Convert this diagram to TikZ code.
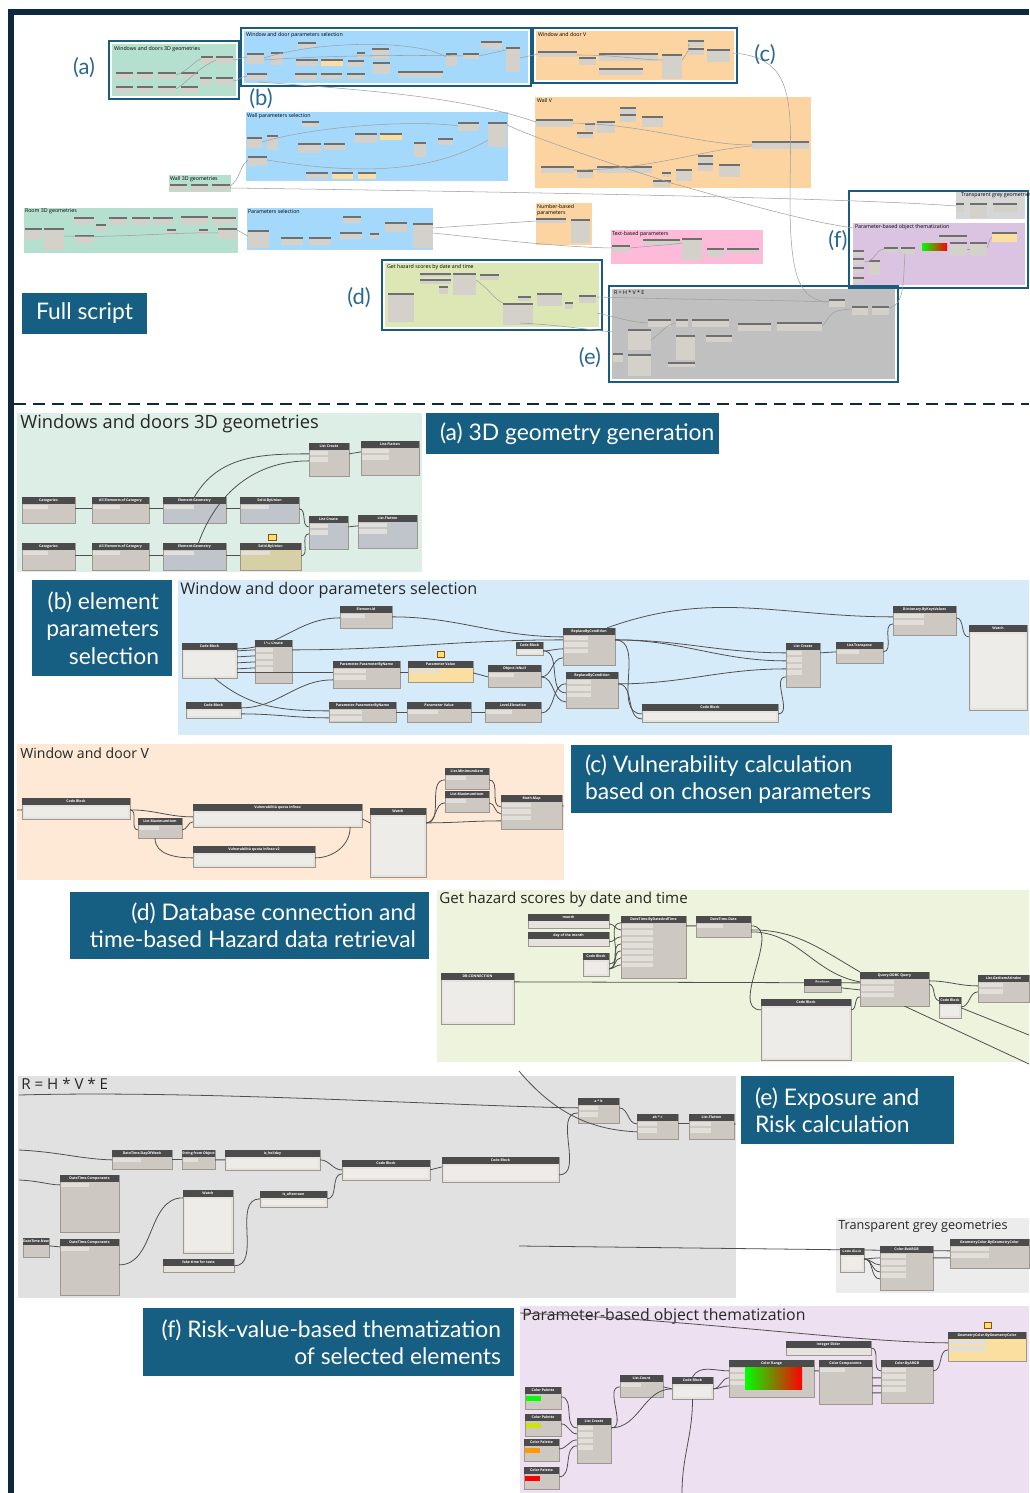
\documentclass[tikz,border=0pt]{standalone}
\usepackage{fontspec}
\setmainfont{Open Sans}
\newfontfamily\capfont{Lato}
\usetikzlibrary{calc,fit}

\definecolor{navy}{HTML}{0E2841}
\definecolor{boxblue}{HTML}{1B5B80}
\definecolor{capblue}{HTML}{165E82}
\definecolor{lblblue}{HTML}{2A6890}
% overview group colours
\definecolor{ovgreen}{HTML}{B5E0CF}
\definecolor{ovblue}{HTML}{A5D9FB}
\definecolor{ovorange}{HTML}{FCD4A2}
\definecolor{ovpink}{HTML}{FDBBD9}
\definecolor{ovolive}{HTML}{DDE7B5}
\definecolor{ovgrey}{HTML}{C0C0C0}
\definecolor{ovlight}{HTML}{D6D6D6}
\definecolor{ovpurple}{HTML}{DAC4E2}
% detail panel colours
\definecolor{pmint}{HTML}{DCEEE6}
\definecolor{pblue}{HTML}{D6EBFA}
\definecolor{ppeach}{HTML}{FDE9D6}
\definecolor{polive}{HTML}{EEF3DD}
\definecolor{pgrey}{HTML}{E1E1E1}
\definecolor{plight}{HTML}{ECECEC}
\definecolor{plav}{HTML}{EDE0F0}
% dynamo nodes
\definecolor{nodegrey}{HTML}{CDC9C2}
\definecolor{nodehead}{HTML}{4B4B4B}
\definecolor{nodeedge}{HTML}{9C978F}
\definecolor{nodeyel}{HTML}{FBDFA0}
\definecolor{nodeblu}{HTML}{BFC5CA}
\definecolor{nodeolive}{HTML}{D7CFA5}
\definecolor{nodelight}{HTML}{E6E3DE}
\definecolor{portfill}{HTML}{E2DFDA}
\definecolor{codefill}{HTML}{EEECE9}
\definecolor{wiregrey}{HTML}{4F4F4F}
\definecolor{notey}{HTML}{F6E27A}

\tikzset{
  ovframe/.style={draw=boxblue, line width=1.6pt},
  ovtitle/.style={anchor=north west, inner sep=0.4pt, font=\fontsize{3}{3.4}\selectfont},
  ovwire/.style={draw=gray!75, line width=0.3pt},
  ovlbl/.style={text=lblblue, font=\capfont\fontsize{12.5}{14}\selectfont, inner sep=0},
  panel/.style={inner sep=0},
  ptitle/.style={anchor=west, inner sep=0, text=black!85},
  capbox/.style={fill=capblue, inner sep=0},
  captext/.style={text=white, font=\capfont\fontsize{13}{15.6}\selectfont, inner sep=0},
  dynbody/.style={fill=nodegrey, draw=nodeedge, line width=0.15pt, inner sep=0},
  dynyel/.style={dynbody, fill=nodeyel},
  dynblue/.style={dynbody, fill=nodeblu},
  dynolive/.style={dynbody, fill=nodeolive},
  dynlight/.style={dynbody, fill=nodelight},
  dyntitle/.style={text=white, font=\fontsize{2}{2.4}\selectfont\bfseries, inner sep=0},
  wire/.style={draw=wiregrey, line width=0.45pt},
  note/.style={fill=notey, draw=orange!60!black, line width=0.1pt}
}

% Dynamo node: style, name, top-left, bottom-right, title
\newcommand{\dyn}[5][dynbody]{%
  \node[#1, fit={(#3) (#4)}] (#2) {};
  \fill[nodehead] (#2.north west) rectangle ($(#2.north east)+(0,7)$);
  \node[dyntitle] at ($(#2.north)+(0,3.5)$) {#5};}
% input port rows of a node
\newcommand{\rows}[2]{%
  \foreach \k in {1,...,#2}
    \fill[portfill] ($(#1.north west)+(1.5,{1.5+6.5*\k})$) rectangle ($(#1.north)+(-1,{6+6.5*\k})$);}
% text area of code blocks and watches
\newcommand{\codearea}[1]{%
  \fill[codefill] ($(#1.north west)+(2,9)$) rectangle ($(#1.south east)+(-2,-2)$);}

\begin{document}
\begin{tikzpicture}[x=0.02cm, y=-0.02cm]
\useasboundingbox (0,0) rectangle (1029,1493);
\fill[white] (0,0) rectangle (1029,1493);

% outer frame
\fill[navy] (8,9) rectangle (1029,15);
\fill[navy] (8,9) rectangle (14,1493);
\draw[navy, line width=1.2pt, dash pattern=on 0.25cm off 0.13cm] (14,404) -- (1029,404);

%%%%%%%%%%%%%%%% full script overview
% groups
\draw[ovframe] (109,41) rectangle (239,99);
\fill[ovgreen] (112,44) rectangle (236,96);
\node[ovtitle] at (113,45) {Windows and doors 3D geometries};
\draw[ovframe] (241,28) rectangle (531,86);
\fill[ovblue] (244,31) rectangle (528,83);
\node[ovtitle] at (245,31) {Window and door parameters selection};
\draw[ovframe] (533,28) rectangle (737,83);
\fill[ovorange] (536,31) rectangle (734,80);
\node[ovtitle] at (537,31) {Window and door V};
\fill[ovblue] (246,112) rectangle (508,181);
\node[ovtitle] at (246,112) {Wall parameters selection};
\fill[ovorange] (535,97) rectangle (811,188);
\node[ovtitle] at (536,97) {Wall V};
\fill[ovgreen] (169,175) rectangle (231,192);
\node[ovtitle] at (169,175) {Wall 3D geometries};
\fill[ovgreen] (24,208) rectangle (238,253);
\node[ovtitle] at (24,208) {Room 3D geometries};
\fill[ovblue] (247,208) rectangle (433,250);
\node[ovtitle] at (247,208) {Parameters selection};
\fill[ovorange] (536,203) rectangle (592,245);
\node[ovtitle, align=left] at (536,203) {Number-based\\parameters};
\fill[ovpink] (611,230) rectangle (763,264);
\node[ovtitle] at (611,230) {Text-based parameters};
\draw[ovframe] (382,260) rectangle (602,330);
\fill[ovolive] (385,263) rectangle (599,327);
\node[ovtitle] at (386,263) {Get hazard scores by date and time};
\draw[ovframe] (609,286) rectangle (898,382);
\fill[ovgrey] (612,289) rectangle (895,379);
\node[ovtitle] at (613,289) {R = H * V * E};
\draw[ovframe] (849,191) rectangle (1028,288);
\fill[ovlight] (956,192) rectangle (1025,219);
\node[ovtitle] at (960,192) {Transparent grey geometries};
\fill[ovpurple] (853,223) rectangle (1025,285);
\node[ovtitle] at (854,223) {Parameter-based object thematization};

% miniature nodes
\foreach \a/\b/\c/\d in {116/72/133/79, 137/72/153/79, 158/72/176/79, 181/72/198/78,
    201/56/213/64, 216/56/233/64, 200/77/212/85, 216/77/233/85,
    116/86/133/93, 137/86/153/93, 158/86/176/93, 181/86/198/93,
    247/53/264/64, 271/52/283/65, 298/42/316/48, 296/59/318/66, 348/60/364/67,
    357/52/365/58, 372/48/389/59, 373/62/390/74, 247/73/267/80, 295/73/317/80,
    321/73/342/79, 347/73/365/79, 398/71/443/77, 446/53/457/66, 463/53/479/59,
    481/41/502/49, 506/47/520/72,
    538/51/577/57, 579/57/596/65, 599/53/658/61, 599/68/643/75, 662/54/682/79,
    688/40/704/47, 688/48/704/55, 707/49/730/62,
    536/119/573/127, 585/123/595/131, 577/132/593/138, 597/121/615/133,
    620/107/636/114, 620/114/636/122, 642/116/663/127, 752/141/809/149,
    541/166/574/173, 577/170/593/178, 597/166/652/173, 662/172/671/177,
    653/180/671/187, 676/169/692/181, 698/155/713/163, 698/163/713/171, 719/164/740/177,
    247/137/262/148, 267/135/278/150, 302/121/319/127, 248/156/267/166,
    298/143/321/153, 324/143/345/150, 355/133/377/143, 414/142/426/157,
    438/138/453/145, 458/122/479/131, 488/122/507/147, 306/172/328/179,
    170/184/187/191, 191/184/208/191, 212/184/230/191,
    25/228/42/240, 44/228/64/250, 74/217/94/225, 75/235/94/243, 96/224/106/231,
    109/217/127/225, 132/217/150/225, 153/217/173/225, 181/216/208/225,
    212/217/236/225, 167/229/176/235, 199/229/208/235, 218/228/237/239,
    248/230/269/248, 281/237/303/245, 309/237/331/245, 340/232/362/239,
    343/216/361/223, 370/233/379/239, 385/222/407/232, 413/223/433/248,
    536/218/566/223, 571/219/590/243,
    612/245/630/252, 643/239/680/245, 682/238/702/260, 707/248/724/257, 727/248/759/253,
    420/273/451/277, 420/279/451/284, 439/286/448/294, 453/273/476/295, 480/274/499/280,
    388/293/414/322, 518/296/531/301, 537/293/562/306, 565/302/573/309,
    579/295/596/303, 503/303/533/325,
    829/299/845/307, 852/306/868/315, 872/306/889/315, 648/319/671/327,
    676/319/688/327, 692/319/729/327, 738/323/771/331, 777/322/822/331,
    628/329/651/350, 628/354/651/376, 613/353/623/362, 676/335/695/360,
    706/335/732/342, 668/362/695/367,
    956/203/964/212, 970/203/987/218, 993/203/1017/212,
    853/250/864/256, 853/258/864/264, 853/267/864/273, 853/277/864/283,
    869/260/880/275, 884/247/898/252, 901/247/915/254, 950/242/967/256,
    970/242/987/256, 939/235/967/239}
  {\fill[nodegrey!85!white] (\a,\b) rectangle (\c,\d);
   \fill[nodehead!80] (\a,\b) rectangle (\c,{\b+1.6});}
\foreach \a/\b/\c/\d in {321/59/343/66, 380/133/402/140, 332/172/353/179,
    358/172/376/179, 992/232/1017/242}
  {\fill[nodeyel] (\a,\b) rectangle (\c,\d);
   \fill[nodehead!80] (\a,\b) rectangle (\c,{\b+1.6});}
\shade[left color=green, middle color=yellow, right color=red] (922,244) rectangle (947,251);

% overview wires
\draw[ovwire] (233,60) to[out=0,in=180] (247,57);
\draw[ovwire] (233,81) to[out=0,in=180] (247,76);
\draw[ovwire] (176,75) .. controls (190,70) and (195,60) .. (201,59);
\draw[ovwire] (176,89) .. controls (190,80) and (195,70) .. (216,60);
\draw[ovwire] (264,58) .. controls (320,40) and (420,40) .. (446,57);
\draw[ovwire] (264,60) .. controls (330,55) and (420,55) .. (463,56);
\draw[ovwire] (479,56) -- (506,50);
\draw[ovwire] (520,58) -- (538,54);
\draw[ovwire] (258,82) .. controls (400,92) and (470,100) .. (536,122);
\draw[ovwire] (577,55) .. controls (620,55) and (640,60) .. (662,60);
\draw[ovwire] (682,60) .. controls (690,50) and (690,45) .. (688,44);
\draw[ovwire] (230,186) .. controls (240,180) and (240,165) .. (248,160);
\draw[ovwire] (230,188) .. controls (520,192) and (850,198) .. (956,206);
\draw[ovwire] (262,142) .. controls (320,125) and (420,120) .. (458,126);
\draw[ovwire] (267,160) .. controls (330,170) and (420,180) .. (488,140);
\draw[ovwire] (573,123) .. controls (650,125) and (700,145) .. (752,145);
\draw[ovwire] (574,170) .. controls (650,170) and (700,150) .. (752,146);
\draw[ovwire] (507,125) .. controls (540,140) and (600,160) .. (671,183);
\draw[ovwire] (671,183) .. controls (750,205) and (800,220) .. (853,228);
\draw[ovwire] (237,230) -- (248,236);
\draw[ovwire] (64,236) .. controls (120,238) and (170,232) .. (218,233);
\draw[ovwire] (433,228) -- (536,221);
\draw[ovwire] (433,233) .. controls (500,240) and (560,247) .. (612,248);
\draw[ovwire] (630,248) .. controls (660,245) and (670,245) .. (682,243);
\draw[ovwire] (733,53) .. controls (800,58) and (790,110) .. (790,200)
                     .. controls (790,280) and (800,300) .. (829,302);
\draw[ovwire] (597,297) .. controls (700,300) and (780,300) .. (829,302);
\draw[ovwire] (597,313) .. controls (620,318) and (630,322) .. (648,323);
\draw[ovwire] (520,323) .. controls (560,325) and (590,330) .. (613,332);
\draw[ovwire] (889,308) .. controls (905,305) and (903,280) .. (905,254);
\draw[ovwire] (864,262) .. controls (875,262) and (875,250) .. (884,249);
\draw[ovwire] (967,249) -- (970,249);
\draw[ovwire] (987,248) .. controls (990,240) and (990,238) .. (992,237);
\draw[ovwire] (651,340) .. controls (665,330) and (665,325) .. (676,323);
\draw[ovwire] (822,326) .. controls (830,320) and (825,310) .. (852,309);
\draw[ovwire] (476,280) .. controls (490,290) and (495,300) .. (503,303);

% overview labels
\node[ovlbl] (lblA) at (84,68) {(a)};
\node[ovlbl] (lblB) at (261,99) {(b)};
\node[ovlbl] (lblC) at (765,55) {(c)};
\node[ovlbl] (lblD) at (359,298) {(d)};
\node[ovlbl] (lblE) at (590,358) {(e)};
\node[ovlbl] (lblF) at (838,241) {(f)};
\node[capbox, fit={(22,293) (147,334)}] (fullbox) {};
\node[captext, font=\capfont\fontsize{13}{15}\selectfont] at (fullbox.center) {Full script};

%%%%%%%%%%%%%%%% (a) 3D geometry generation
\node[panel, fill=pmint, fit={(17,413) (422,572)}] (panA) {};
\node[ptitle, font=\fontsize{10.4}{12}\selectfont] at (20,424) {Windows and doors 3D geometries};
\node[capbox, fit={(426,413) (719,454)}] (capA) {};
\node[captext, anchor=west] at ($(capA.west)+(14,0)$) {(a) 3D geometry generation};

\dyn{catA}{22,497}{75,523}{Categories}
\dyn{allA}{92,497}{149,523}{All Elements of Category}
\dyn[dynblue]{geoA}{163,497}{226,523}{Element.Geometry}
\dyn[dynblue]{solA}{240,497}{299,523}{Solid.ByUnion}
\dyn{catB}{22,543}{75,570}{Categories}
\dyn{allB}{92,543}{149,570}{All Elements of Category}
\dyn[dynblue]{geoB}{163,543}{226,570}{Element.Geometry}
\dyn[dynolive]{solB}{240,543}{301,570}{Solid.ByUnion}
\dyn{lcA}{309,443}{349,476}{List Create}
\dyn{lfA}{361,441}{419,475}{List.Flatten}
\dyn[dynblue]{lcB}{309,516}{348,549}{List Create}
\dyn[dynblue]{lfB}{358,515}{417,548}{List.Flatten}
\foreach \n in {catA,allA,geoA,solA,catB,allB,geoB,solB} {\rows{\n}{1}}
\foreach \n in {lcA,lfA,lcB,lfB} {\rows{\n}{2}}
\fill[note] (268,534) rectangle (276,540);

\draw[wire] ($(catA.north east)+(0,12)$) -- ($(allA.north west)+(0,12)$);
\draw[wire] ($(allA.north east)+(0,12)$) -- ($(geoA.north west)+(0,12)$);
\draw[wire] ($(geoA.north east)+(0,12)$) -- ($(solA.north west)+(0,12)$);
\draw[wire] ($(catB.north east)+(0,13)$) -- ($(allB.north west)+(0,13)$);
\draw[wire] ($(allB.north east)+(0,13)$) -- ($(geoB.north west)+(0,13)$);
\draw[wire] ($(geoB.north east)+(0,13)$) -- ($(solB.north west)+(0,13)$);
\draw[wire] ($(geoA.north)+(0,0)$) to[out=60,in=180] ($(lcA.north west)+(0,11)$);
\draw[wire] ($(geoB.north)+(4,0)$) to[out=70,in=180] ($(lcA.north west)+(0,18)$);
\draw[wire] ($(solA.north east)+(0,12)$) to[out=0,in=180] ($(lcB.north west)+(0,11)$);
\draw[wire] ($(solB.north east)+(0,13)$) to[out=0,in=180] ($(lcB.north west)+(0,18)$);
\draw[wire] ($(lcA.north east)+(0,11)$) -- ($(lfA.north west)+(0,11)$);
\draw[wire] ($(lcB.north east)+(0,11)$) -- ($(lfB.north west)+(0,11)$);

%%%%%%%%%%%%%%%% (b) element parameters selection
\node[capbox, fit={(32,580) (172,676)}] (capB) {};
\node[captext, anchor=east, align=right] at ($(capB.east)+(-13,0)$) {(b) element\\parameters\\selection};
\node[panel, fill=pblue, fit={(178,580) (1029,735)}] (panB) {};
\node[ptitle, font=\fontsize{9.2}{11}\selectfont] at (180,590) {Window and door parameters selection};

\dyn[dynlight]{cbIds}{182,643}{237,678}{Code Block}
\dyn{lcPar}{255,640}{292,683}{List Create}
\dyn{elemId}{340,606}{392,628}{Element.Id}
\dyn{pbnA}{333,661}{400,688}{Parameter.ParameterByName}
\dyn[dynyel]{pvA}{408,661}{473,682}{Parameter Value}
\dyn{isNull}{488,665}{541,687}{Object.IsNull}
\dyn[dynlight]{cbZero}{516,642}{543,655}{Code Block}
\dyn{rbcA}{563,628}{615,665}{ReplaceByCondition}
\dyn{rbcB}{566,672}{618,708}{ReplaceByCondition}
\dyn[dynlight]{cbNames}{186,702}{241,718}{Code Block}
\dyn{pbnB}{329,702}{396,722}{Parameter.ParameterByName}
\dyn{pvB}{407,702}{471,722}{Parameter Value}
\dyn{levEl}{485,702}{541,722}{Level.Elevation}
\dyn[dynlight]{cbSum}{642,704}{778,722}{Code Block}
\dyn{lcOut}{786,643}{820,687}{List Create}
\dyn{transp}{836,642}{883,663}{List.Transpose}
\dyn{dictKV}{893,606}{956,635}{Dictionary.ByKeysValues}
\dyn[dynlight]{watchB}{969,625}{1027,710}{Watch}
\foreach \n in {cbIds,cbNames,cbZero,cbSum,watchB} {\codearea{\n}}
\foreach \n in {elemId,pvA,isNull,pvB,levEl,transp} {\rows{\n}{1}}
\foreach \n in {pbnA,pbnB,dictKV} {\rows{\n}{2}}
\foreach \n in {rbcA,rbcB} {\rows{\n}{3}}
\foreach \n in {lcPar,lcOut} {\rows{\n}{4}}
\fill[note] (437,651) rectangle (444,657);

\foreach \k in {8,14,20,26}
  \draw[wire] ($(cbIds.north east)+(0,\k)$) -- ($(lcPar.north west)+(0,\k+2)$);
\draw[wire] ($(cbIds.north east)+(0,6)$) to[out=0,in=180] ($(elemId.north west)+(0,12)$);
\draw[wire] ($(cbIds.north east)+(0,30)$) to[out=0,in=180] ($(pbnA.north west)+(0,12)$);
\draw[wire] ($(cbIds.south)+(5,0)$) to[out=-40,in=180] ($(pbnB.north west)+(0,9)$);
\draw[wire] ($(cbNames.north east)+(0,6)$) to[out=0,in=180] ($(pbnA.north west)+(0,19)$);
\draw[wire] ($(cbNames.north east)+(0,12)$) to[out=0,in=180] ($(pbnB.north west)+(0,16)$);
\draw[wire] ($(lcPar.north east)+(0,10)$) to[out=0,in=180] ($(rbcA.north west)+(0,12)$);
\draw[wire] ($(elemId.north east)+(0,11)$) to[out=0,in=180] ($(rbcA.north west)+(0,9)$);
\draw[wire] ($(pbnA.north east)+(0,12)$) -- ($(pvA.north west)+(0,12)$);
\draw[wire] ($(pvA.north east)+(0,12)$) -- ($(isNull.north west)+(0,12)$);
\draw[wire] ($(isNull.north east)+(0,12)$) to[out=0,in=180] ($(rbcA.north west)+(0,30)$);
\draw[wire] ($(isNull.north east)+(0,12)$) to[out=0,in=180] ($(rbcB.north west)+(0,30)$);
\draw[wire] ($(cbZero.north east)+(0,9)$) to[out=0,in=180] ($(rbcA.north west)+(0,21)$);
\draw[wire] ($(cbZero.north east)+(0,9)$) to[out=0,in=180] ($(rbcB.north west)+(0,21)$);
\draw[wire] ($(pbnB.north east)+(0,11)$) -- ($(pvB.north west)+(0,11)$);
\draw[wire] ($(pvB.north east)+(0,11)$) -- ($(levEl.north west)+(0,11)$);
\draw[wire] ($(levEl.north east)+(0,11)$) to[out=0,in=180] ($(rbcB.north west)+(0,12)$);
\draw[wire] ($(rbcA.north east)+(0,12)$) to[out=0,in=180] ($(lcOut.north west)+(0,10)$);
\draw[wire] ($(rbcA.north east)+(0,12)$) to[out=0,in=180] ($(lcOut.north west)+(0,18)$);
\draw[wire] ($(rbcA.north east)+(0,12)$) to[out=0,in=180] ($(cbSum.north west)+(0,10)$);
\draw[wire] ($(rbcB.north east)+(0,12)$) to[out=0,in=180] ($(lcOut.north west)+(0,26)$);
\draw[wire] ($(rbcB.north east)+(0,12)$) to[out=0,in=180] ($(cbSum.north west)+(0,15)$);
\draw[wire] ($(cbSum.north east)+(0,10)$) to[out=0,in=180] ($(lcOut.north west)+(0,34)$);
\draw[wire] ($(lcOut.north east)+(0,10)$) -- ($(transp.north west)+(0,10)$);
\draw[wire] ($(transp.north east)+(0,10)$) to[out=0,in=180] ($(dictKV.north west)+(0,18)$);
\draw[wire] ($(rbcA.north east)+(-8,0)$) to[out=20,in=180] ($(dictKV.north west)+(0,11)$);
\draw[wire] ($(dictKV.north east)+(0,12)$) to[out=0,in=180] ($(watchB.north west)+(0,12)$);

%%%%%%%%%%%%%%%% (c) vulnerability
\node[panel, fill=ppeach, fit={(17,744) (564,880)}] (panC) {};
\node[ptitle, font=\fontsize{8}{10}\selectfont] at (20,753) {Window and door V};
\node[capbox, fit={(571,745) (892,813)}] (capC) {};
\node[captext, anchor=west, align=left] at ($(capC.west)+(14,0)$) {(c) Vulnerability calculation\\based on chosen parameters};

\dyn[dynlight]{cbV}{22,798}{130,819}{Code Block}
\dyn{lmaxV}{138,818}{182,838}{List.MaximumItem}
\dyn[dynlight]{vulnA}{193,804}{362,827}{Vulnerabilità quota infisso}
\dyn[dynlight]{vulnB}{193,846}{315,867}{Vulnerabilità quota infisso v2}
\dyn[dynlight]{watchV}{370,808}{426,877}{Watch}
\dyn{lminV}{445,768}{489,789}{List.MinimumItem}
\dyn{lmaxW}{445,791}{489,812}{List.MaximumItem}
\dyn{mapV}{501,795}{562,829}{Math.Map}
\foreach \n in {cbV,vulnA,vulnB,watchV} {\codearea{\n}}
\foreach \n in {lmaxV,lminV,lmaxW} {\rows{\n}{1}}
\rows{mapV}{3}

\draw[wire] (17,810) -- ($(cbV.north west)+(0,12)$);
\draw[wire] ($(cbV.north east)+(0,12)$) to[out=0,in=180] ($(vulnA.north west)+(0,13)$);
\draw[wire] ($(cbV.north east)+(0,12)$) to[out=0,in=180] ($(lmaxV.north west)+(0,12)$);
\draw[wire] ($(lmaxV.north east)+(0,12)$) to[out=0,in=180] ($(vulnA.north west)+(0,18)$);
\draw[wire] ($(lmaxV.south)+(-5,0)$) to[out=-90,in=180] ($(vulnB.north west)+(0,12)$);
\draw[wire] ($(vulnA.north east)+(0,15)$) -- ($(watchV.north west)+(0,15)$);
\draw[wire] ($(vulnB.north east)+(0,12)$) to[out=0,in=-90] ($(vulnA.south east)+(-12,0)$);
\draw[wire] ($(watchV.north east)+(0,15)$) to[out=0,in=180] ($(lminV.north west)+(0,12)$);
\draw[wire] ($(watchV.north east)+(0,15)$) to[out=0,in=180] ($(lmaxW.north west)+(0,12)$);
\draw[wire] ($(watchV.north east)+(0,15)$) to[out=0,in=180] ($(mapV.north west)+(0,26)$);
\draw[wire] ($(lminV.north east)+(0,12)$) to[out=0,in=180] ($(mapV.north west)+(0,12)$);
\draw[wire] ($(lmaxW.north east)+(0,12)$) to[out=0,in=180] ($(mapV.north west)+(0,19)$);
\draw[wire] ($(mapV.north east)+(0,11)$) -- (564,806);

%%%%%%%%%%%%%%%% (d) hazard data
\node[capbox, fit={(70,892) (429,959)}] (capD) {};
\node[captext, anchor=east, align=right] at ($(capD.east)+(-13,0)$) {(d) Database connection and\\time-based Hazard data retrieval};
\node[panel, fill=polive, fit={(437,890) (1029,1062)}] (panD) {};
\node[ptitle, font=\fontsize{8.6}{10}\selectfont] at (439,900) {Get hazard scores by date and time};

\dyn[dynlight]{monthSl}{528,914}{609,928}{month}
\dyn[dynlight]{daySl}{528,932}{609,946}{day of the month}
\dyn[dynlight]{cbDate}{583,953}{609,976}{Code Block}
\dyn{dtBy}{621,916}{686,978}{DateTime.ByDateAndTime}
\dyn{dtDate}{696,916}{751,937}{DateTime.Date}
\dyn[dynlight]{dbConn}{441,973}{514,1024}{DB-CONNECTION}
\dyn{boolT}{804,979}{841,992}{Boolean}
\dyn{odbc}{860,972}{929,1006}{Query.ODBC Query}
\dyn[dynlight]{cbSql}{761,999}{851,1060}{Code Block}
\dyn[dynlight]{cbIdx}{939,997}{961,1018}{Code Block}
\dyn{getItem}{978,975}{1029,1002}{List.GetItemAtIndex}
\foreach \n in {cbDate,dbConn,cbSql,cbIdx} {\codearea{\n}}
\rows{dtBy}{7}
\rows{dtDate}{1}
\rows{odbc}{3}
\rows{getItem}{2}

\draw[wire] ($(monthSl.north east)+(0,10)$) to[out=0,in=180] ($(dtBy.north west)+(0,14)$);
\draw[wire] ($(daySl.north east)+(0,10)$) to[out=0,in=180] ($(dtBy.north west)+(0,21)$);
\draw[wire] ($(cbDate.north east)+(0,11)$) to[out=0,in=180] ($(dtBy.north west)+(0,7)$);
\draw[wire] ($(cbDate.north east)+(0,16)$) to[out=0,in=180] ($(dtBy.north west)+(0,28)$);
\draw[wire] ($(cbDate.north east)+(0,16)$) to[out=0,in=180] ($(dtBy.north west)+(0,35)$);
\draw[wire] ($(cbDate.north east)+(0,16)$) to[out=0,in=180] ($(dtBy.north west)+(0,42)$);
\draw[wire] ($(cbDate.north east)+(0,16)$) to[out=0,in=180] ($(dtBy.north west)+(0,49)$);
\draw[wire] ($(dtBy.north east)+(0,10)$) -- ($(dtDate.north west)+(0,10)$);
\draw[wire] ($(dtDate.north east)+(0,10)$) to[out=0,in=180] ($(cbSql.north west)+(0,11)$);
\draw[wire] ($(dtDate.north east)+(0,14)$) to[out=0,in=150] ($(odbc.north west)+(0,0)$);
\draw[wire] ($(dtDate.north east)+(0,16)$) to[out=0,in=170] ($(odbc.north west)+(0,10)$);
\draw[wire] ($(dbConn.north east)+(0,9)$) -- ($(odbc.north west)+(0,11)$);
\draw[wire] ($(boolT.north east)+(0,9)$) -- ($(odbc.north west)+(0,18)$);
\draw[wire] ($(cbSql.north east)+(0,11)$) to[out=0,in=180] ($(odbc.north west)+(0,25)$);
\draw[wire] ($(odbc.north east)+(0,9)$) to[out=0,in=180] ($(getItem.north west)+(0,11)$);
\draw[wire] ($(odbc.north east)+(0,12)$) to[out=-20,in=160] ($(cbIdx.north west)+(0,4)$);
\draw[wire] ($(cbIdx.north east)+(0,10)$) to[out=0,in=180] ($(getItem.north west)+(0,17)$);
\draw[wire] ($(odbc.south)+(10,0)$) -- (1029,1064);
\draw[wire] ($(cbIdx.north east)+(0,11)$) -- (1029,1035);

%%%%%%%%%%%%%%%% (e) exposure and risk
\node[panel, fill=pgrey, fit={(18,1076) (736,1298)}] (panE) {};
\node[ptitle, font=\fontsize{8.6}{10}\selectfont] at (21,1084) {R = H * V * E};
\node[capbox, fit={(741,1076) (954,1144)}] (capE) {};
\node[captext, anchor=west, align=left] at ($(capE.west)+(14,0)$) {(e) Exposure and\\Risk calculation};

\dyn{nAB}{578,1098}{619,1123}{a * b}
\dyn{nABC}{637,1114}{678,1139}{ab * c}
\dyn{lfR}{689,1114}{734,1139}{List.Flatten}
\dyn{dow}{112,1150}{172,1169}{DateTime.DayOfWeek}
\dyn{strObj}{182,1150}{215,1169}{String from Object}
\dyn[dynlight]{isHol}{225,1150}{320,1170}{is\_holiday}
\dyn[dynlight]{cbExp}{342,1160}{430,1180}{Code Block}
\dyn[dynlight]{cbOut}{442,1157}{559,1182}{Code Block}
\dyn{dtcA}{60,1175}{119,1232}{DateTime.Components}
\dyn[dynlight]{watchE}{183,1190}{233,1253}{Watch}
\dyn[dynlight]{isAft}{260,1191}{327,1207}{is\_afternoon}
\dyn{dtNow}{23,1238}{49,1257}{DateTime.Now}
\dyn{dtcB}{60,1239}{119,1295}{DateTime.Components}
\dyn[dynlight]{fakeSl}{163,1259}{234,1272}{fake time for tests}
\foreach \n in {isHol,cbExp,cbOut,watchE,isAft} {\codearea{\n}}
\foreach \n in {nAB,nABC,lfR} {\rows{\n}{2}}
\foreach \n in {dow,strObj,dtcA,dtcB} {\rows{\n}{1}}

\coordinate (inH) at (19,1095);
\coordinate (inV) at (519,1071);
\coordinate (inD) at (19,1150);
\coordinate (inT) at (19,1180);
\draw[wire] (inH) .. controls (200,1090) and (450,1106) .. ($(nAB.north west)+(0,10)$);
\draw[wire] (inV) .. controls (560,1120) and (600,1130) .. ($(nABC.north west)+(0,18)$);
\draw[wire] (inD) .. controls (60,1152) and (80,1159) .. ($(dow.north west)+(0,10)$);
\draw[wire] (inT) .. controls (40,1181) and (50,1185) .. ($(dtcA.north west)+(0,10)$);
\draw[wire] ($(nAB.north east)+(0,10)$) to[out=0,in=180] ($(nABC.north west)+(0,10)$);
\draw[wire] ($(nABC.north east)+(0,10)$) -- ($(lfR.north west)+(0,10)$);
\draw[wire] ($(lfR.north east)+(0,10)$) -- (736,1124);
\draw[wire] ($(dow.north east)+(0,10)$) -- ($(strObj.north west)+(0,10)$);
\draw[wire] ($(strObj.north east)+(0,10)$) -- ($(isHol.north west)+(0,10)$);
\draw[wire] ($(isHol.north east)+(0,10)$) to[out=0,in=180] ($(cbExp.north west)+(0,10)$);
\draw[wire] ($(isAft.north east)+(0,8)$) to[out=0,in=180] ($(cbExp.north west)+(0,14)$);
\draw[wire] ($(cbExp.north east)+(0,10)$) -- ($(cbOut.north west)+(0,10)$);
\draw[wire] ($(cbOut.north east)+(0,18)$) to[out=0,in=180] ($(nAB.north west)+(0,15)$);
\draw[wire] ($(dtNow.north east)+(0,8)$) -- ($(dtcB.north west)+(0,8)$);
\draw[wire] ($(dtcB.north east)+(0,26)$) to[out=0,in=180] ($(watchE.north west)+(0,8)$);
\draw[wire] ($(fakeSl.north east)+(0,7)$) to[out=0,in=180] ($(isAft.north west)+(0,8)$);

% transparent grey geometries
\node[panel, fill=plight, fit={(836,1218) (1029,1293)}] (panT) {};
\node[ptitle, font=\fontsize{7.2}{8}\selectfont] at (838,1226) {Transparent grey geometries};
\dyn[dynlight]{cbGrey}{840,1248}{864,1272}{Code Block}
\dyn{argbT}{880,1246}{933,1290}{Color.ByARGB}
\dyn{gcT}{950,1239}{1029,1268}{GeometryColor.ByGeometryColor}
\codearea{cbGrey}
\rows{argbT}{4}
\rows{gcT}{2}
\draw[wire] (519,1246) .. controls (700,1248) and (850,1250) .. ($(gcT.north west)+(0,12)$);
\foreach \k in {12,19,26,33}
  \draw[wire] ($(cbGrey.north east)+(0,11)$) to[out=0,in=180] ($(argbT.north west)+(0,\k)$);
\draw[wire] ($(argbT.north east)+(0,12)$) to[out=0,in=180] ($(gcT.north west)+(0,19)$);

%%%%%%%%%%%%%%%% (f) thematization
\node[capbox, fit={(143,1308) (514,1376)}] (capF) {};
\node[captext, anchor=east, align=right] at ($(capF.east)+(-13,0)$) {(f) Risk-value-based thematization\\of selected elements};
\node[panel, fill=plav, fit={(520,1306) (1029,1493)}] (panF) {};
\node[ptitle, font=\fontsize{9}{10}\selectfont] at (522,1316) {Parameter-based object thematization};

\dyn[dynyel]{gcF}{948,1332}{1026,1361}{GeometryColor.ByGeometryColor}
\dyn[dynlight]{intSl}{786,1341}{871,1355}{Integer Slider}
\dyn{cRange}{729,1360}{814,1397}{Color Range}
\dyn{cComp}{819,1360}{872,1404}{Color Components}
\dyn{argbF}{881,1360}{933,1403}{Color.ByARGB}
\dyn[dynlight]{cbF}{672,1377}{713,1399}{Code Block}
\dyn{lCount}{620,1375}{663,1397}{List.Count}
\dyn{lcF}{577,1418}{611,1463}{List Create}
\dyn{palA}{525,1387}{561,1409}{Color Palette}
\dyn{palB}{525,1414}{561,1436}{Color Palette}
\dyn{palC}{524,1439}{559,1461}{Color Palette}
\dyn{palD}{524,1467}{559,1489}{Color Palette}
\codearea{cbF}
\rows{gcF}{2}
\rows{cRange}{3}
\rows{cComp}{1}
\rows{argbF}{4}
\rows{lCount}{1}
\rows{lcF}{4}
\shade[left color=green, middle color=yellow, right color=red] (745,1367) rectangle (802,1389);
\fill[green] (526,1396) rectangle (541,1401);
\fill[yellow!80!green] (526,1423) rectangle (541,1428);
\fill[orange!80!yellow] (525,1448) rectangle (540,1453);
\fill[red] (525,1476) rectangle (540,1481);
\fill[note] (984,1322) rectangle (991,1328);

\coordinate (inG) at (520,1313);
\coordinate (outF) at (682,1493);
\draw[wire] (inG) .. controls (700,1320) and (850,1342) .. ($(gcF.north west)+(0,11)$);
\draw[wire] ($(palA.north east)+(0,10)$) to[out=0,in=180] ($(lcF.north west)+(0,10)$);
\draw[wire] ($(palB.north east)+(0,10)$) to[out=0,in=180] ($(lcF.north west)+(0,16)$);
\draw[wire] ($(palC.north east)+(0,10)$) to[out=0,in=180] ($(lcF.north west)+(0,22)$);
\draw[wire] ($(palD.north east)+(0,10)$) to[out=0,in=180] ($(lcF.north west)+(0,28)$);
\draw[wire] ($(lcF.north east)+(0,10)$) to[out=0,in=180] ($(lCount.north west)+(0,12)$);
\draw[wire] ($(lcF.north east)+(0,10)$) to[out=0,in=180] ($(cbF.north west)+(0,12)$);
\draw[wire] ($(lCount.north east)+(0,12)$) -- ($(cbF.north west)+(0,12)$);
\draw[wire] ($(cbF.north)+(0,0)$) to[out=60,in=180] ($(cRange.north west)+(0,11)$);
\draw[wire] ($(cbF.north east)+(0,12)$) to[out=0,in=180] ($(cRange.north west)+(0,18)$);
\draw[wire] ($(cbF.north east)+(0,12)$) to[out=0,in=180] ($(cRange.north west)+(0,26)$);
\draw[wire] ($(cRange.north east)+(0,11)$) -- ($(cComp.north west)+(0,11)$);
\draw[wire] ($(intSl.north east)+(0,7)$) to[out=0,in=180] ($(argbF.north west)+(0,11)$);
\foreach \k in {18,26,33}
  \draw[wire] ($(cComp.north east)+(0,\k)$) -- ($(argbF.north west)+(0,\k)$);
\draw[wire] ($(argbF.north east)+(0,11)$) to[out=0,in=180] ($(gcF.north west)+(0,18)$);
\draw[wire] (cbF.south) to[out=-90,in=90] (outF);

\end{tikzpicture}
\end{document}
